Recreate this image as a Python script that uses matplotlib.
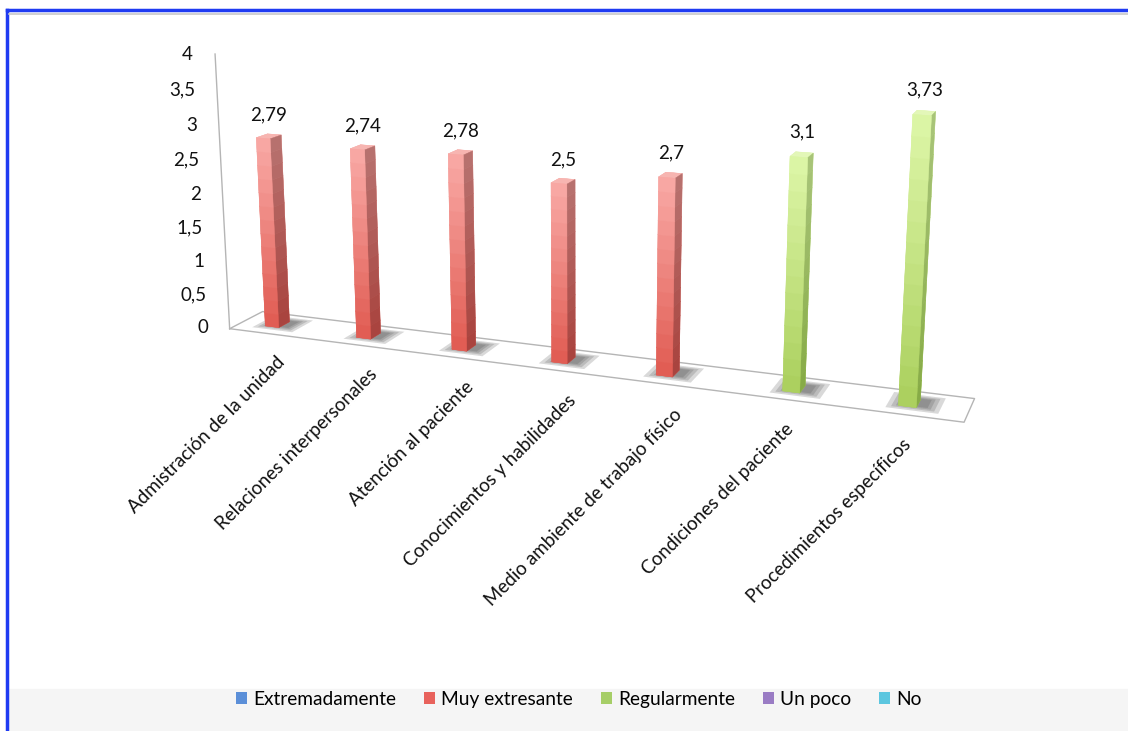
import numpy as np
import matplotlib.pyplot as plt
from matplotlib.patches import Patch, Rectangle
from matplotlib.lines import Line2D
from matplotlib.colors import to_rgb
from mpl_toolkits.mplot3d import proj3d

plt.rcParams['font.family'] = ['Lato', 'DejaVu Sans']

categories = ["Admistración de la unidad", "Relaciones interpersonales",
              "Atención al paciente", "Conocimientos y habilidades",
              "Medio ambiente de trabajo físico", "Condiciones del paciente",
              "Procedimientos específicos"]
series_names = ["Extremadamente", "Muy extresante", "Regularmente", "Un poco", "No"]
extremadamente = [0, 0, 0, 0, 0, 0, 0]
muy_extresante = [2.79, 2.74, 2.78, 2.5, 2.7, 0, 0]
regularmente = [0, 0, 0, 0, 0, 3.1, 3.73]
un_poco = [0, 0, 0, 0, 0, 0, 0]
no = [0, 0, 0, 0, 0, 0, 0]
z_ticks = [0, 0.5, 1, 1.5, 2, 2.5, 3, 3.5, 4]
z_tick_labels = ["0", "0,5", "1", "1,5", "2", "2,5", "3", "3,5", "4"]

legend_colors = ["#5B8FD8", "#E8625C", "#A6CE67", "#9A7CC4", "#5CC6DF"]
# front face gradient (top, bottom), side face gradient (top, bottom), cap
bar_shades = {
    1: ("#F9AAA6", "#E05A51", "#B87370", "#A8423D", "#F7B5B1"),
    2: ("#DDF6A8", "#AACF5C", "#A9C57A", "#86AA45", "#E3F7B8"),
}

all_series = [extremadamente, muy_extresante, regularmente, un_poco, no]

fig = plt.figure(figsize=(11.28, 7.31), dpi=100)

# background decorations
fig.patches.append(Rectangle((0.006, 0), 0.994, 0.058, transform=fig.transFigure,
                             color="#F5F5F5", zorder=-5))
fig.lines.append(Line2D([0.006, 0.006], [0, 0.986], transform=fig.transFigure,
                        color="#1F3BF2", lw=2.5))
fig.lines.append(Line2D([0.006, 1], [0.986, 0.986], transform=fig.transFigure,
                        color="#1F3BF2", lw=2.5))
fig.lines.append(Line2D([0.008, 1], [0.981, 0.981], transform=fig.transFigure,
                        color="#C8C8C8", lw=1.2))

S = 1100
cx, cy = 0.500, 0.680
ax = fig.add_axes([cx - S / 1128 / 2, cy - S / 731 / 2, S / 1128, S / 731],
                  projection='3d')
ax.patch.set_visible(False)
ax.set_proj_type('persp', focal_length=0.28)
ax.view_init(elev=14, azim=-69)

xmin, xmax = -0.5, 6.5
depth = 0.6
ax.set_xlim(xmin, xmax)
ax.set_ylim(0, depth)
ax.set_zlim(0, 4)
ax.set_box_aspect((7, depth, 2.67), zoom=0.745)
ax.set_axis_off()


def mix(c1, c2, t):
    a, b = np.array(to_rgb(c1)), np.array(to_rgb(c2))
    return tuple(a + (b - a) * t)


slot = 0.15
bw = 0.15
bd = 0.2
nseg = 14
x_idx = np.arange(len(categories))
for s, vals in enumerate(all_series):
    offs = (s - 2) * slot
    for i, v in enumerate(vals):
        if v <= 0:
            continue
        xc = x_idx[i] + offs
        y0 = depth / 2 - bd / 2
        # soft floor shadow around the column base
        for g in [0.44, 0.36, 0.29, 0.23]:
            ax.bar3d(xc + 0.05 - g / 2, depth / 2 - g / 2 + 0.04, 0, g, g * 0.9,
                     0.001, color=(0.3, 0.3, 0.3, 0.11), shade=False,
                     edgecolor='none')
        ftop, fbot, stop, sbot, cap = bar_shades[s]
        zs = np.linspace(0, v, nseg + 1)[:-1]
        dz = v / nseg
        cols = []
        for k in range(nseg):
            t = 1 - (k + 0.5) / nseg
            fc = mix(ftop, fbot, t)
            sc = mix(stop, sbot, t)
            top_c = to_rgb(cap) if k == nseg - 1 else fc
            # bottom, top, front, back, left, right
            cols += [fc, top_c, fc, fc, fc, sc]
        ax.bar3d(np.full(nseg, xc - bw / 2), np.full(nseg, y0), zs,
                 bw, bd, dz, color=cols, shade=False, edgecolor=cols,
                 linewidth=0.3)
        ax.text(xc, depth / 2, v + 0.18, str(v).replace('.', ','),
                ha='center', va='bottom', fontsize=13.5, color="#111111")

# floor outline and vertical axis
fl = "#B5B5B5"
ax.plot([xmin, xmax, xmax, xmin, xmin], [0, 0, depth, depth, 0], [0, 0, 0, 0, 0],
        color=fl, lw=1)
ax.plot([xmin, xmin], [0, 0], [0, 4], color=fl, lw=1)

for t, lab in zip(z_ticks, z_tick_labels):
    ax.text(xmin - 0.24, 0, t - 0.03, lab, ha='right', va='center', fontsize=13.5,
            color="#111111")

M = ax.get_proj()
for i, cat in enumerate(categories):
    px, py, _ = proj3d.proj_transform(x_idx[i], 0, -0.28, M)
    ax.text2D(px, py, cat, transform=ax.transData, rotation=45,
              rotation_mode='anchor', ha='right', va='top', fontsize=13.5,
              color="#111111")

handles = [Patch(facecolor=c, edgecolor='none') for c in legend_colors]
fig.legend(handles, series_names, loc='center', bbox_to_anchor=(0.513, 0.043),
           ncol=5, frameon=False, handlelength=0.6, handleheight=0.6,
           handletextpad=0.3, columnspacing=1.45, fontsize=13.8)

fig.savefig("out.png", dpi=100)
